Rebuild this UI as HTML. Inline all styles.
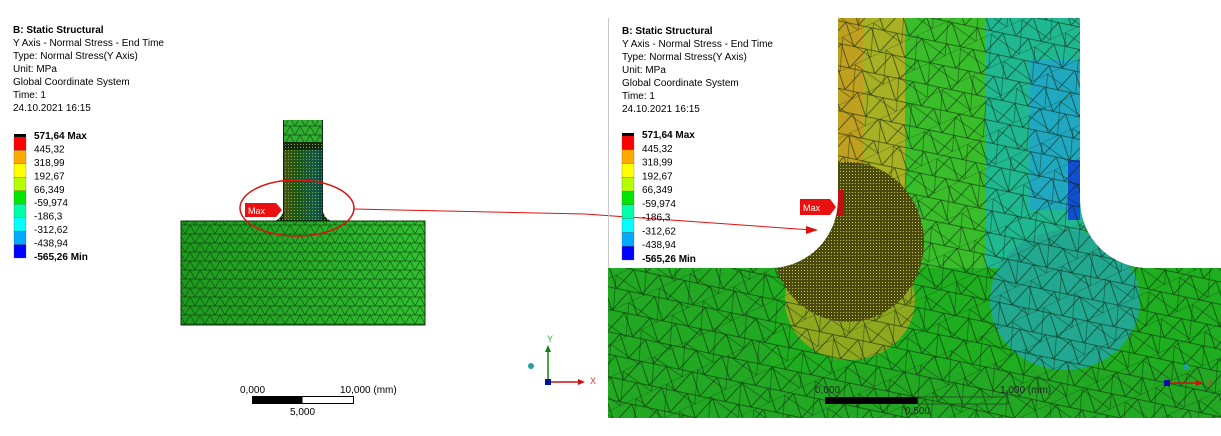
<!DOCTYPE html>
<html><head><meta charset="utf-8">
<style>
body{margin:0;background:#fff;width:1221px;height:436px;overflow:hidden;font-family:"Liberation Sans",sans-serif}
svg{position:absolute;left:0;top:0}
text{font-family:"Liberation Sans",sans-serif}
</style></head><body>
<svg width="1221" height="436" viewBox="0 0 1221 436">
<defs>
 <pattern id="meshS" width="10" height="9" patternUnits="userSpaceOnUse">
  <path d="M0 0H10M0 0L5 9L10 0M0 9H10" stroke="#0a2a0a" stroke-width="0.7" fill="none" opacity="0.7"/>
 </pattern>
 <pattern id="meshL" width="26" height="22" patternUnits="userSpaceOnUse" patternTransform="rotate(12)">
  <path d="M0 0H26M0 0L13 22L26 0M0 22H26M13 22L0 44" stroke="#082008" stroke-width="0.8" fill="none" opacity="0.7"/>
 </pattern>
 <pattern id="meshL2" width="34" height="30" patternUnits="userSpaceOnUse" patternTransform="rotate(-25)">
  <path d="M0 0L17 30L34 0M0 30H34" stroke="#082008" stroke-width="0.7" fill="none" opacity="0.55"/>
 </pattern>
 <pattern id="dots" width="3" height="3" patternUnits="userSpaceOnUse">
  <rect width="3" height="3" fill="#4a4a10"/><rect width="1" height="1" fill="#c8c830"/>
 </pattern>
 <pattern id="dotsS" width="3" height="3" patternUnits="userSpaceOnUse">
  <rect width="3" height="3" fill="#102a10"/><rect width="1" height="1" fill="#90a030"/>
 </pattern>
 <linearGradient id="baseG" x1="0" x2="1">
  <stop offset="0" stop-color="#1e9a1e"/><stop offset="1" stop-color="#30c030"/>
 </linearGradient>
 <linearGradient id="stemG" x1="0" x2="1">
  <stop offset="0" stop-color="#b8b020"/><stop offset="0.35" stop-color="#40c020"/><stop offset="0.55" stop-color="#30c080"/><stop offset="0.85" stop-color="#20c8c0"/><stop offset="1" stop-color="#1070e0"/>
 </linearGradient>
 <clipPath id="geoR">
  <path d="M838 18 L1080 18 L1080 200 A68 68 0 0 0 1148 268 L1221 268 L1221 418 L608 418 L608 268 L770 268 A68 68 0 0 0 838 200 Z"/>
 </clipPath>
</defs>

<g font-size="10" fill="#000">
 <text x="13" y="33" font-weight="bold">B: Static Structural</text>
 <text x="13" y="46">Y Axis - Normal Stress - End Time</text>
 <text x="13" y="59">Type: Normal Stress(Y Axis)</text>
 <text x="13" y="72">Unit: MPa</text>
 <text x="13" y="85">Global Coordinate System</text>
 <text x="13" y="98">Time: 1</text>
 <text x="13" y="111">24.10.2021 16:15</text>
</g>
<g id="legL"></g>

<g>
 <rect x="181" y="221" width="244" height="104" fill="url(#baseG)"/>
 <rect x="181" y="221" width="244" height="104" fill="url(#meshS)"/>
 <rect x="181" y="221" width="244" height="104" fill="none" stroke="#0a3a0a"/>
 <path d="M283 120H323V212Q326 221 334 221H272Q280 221 283 212Z" fill="url(#dotsS)"/>
 <rect x="284" y="150" width="38" height="70" fill="url(#stemG)" opacity="0.3"/>
 <rect x="284" y="120" width="38" height="22" fill="#30b030"/>
 <rect x="284" y="120" width="38" height="22" fill="url(#meshS)"/>
 <ellipse cx="297" cy="208" rx="57" ry="28" fill="none" stroke="#e01010" stroke-width="1.5"/>
 <path d="M245 203H276L282 210L276 217H245Z" fill="#e81010"/>
 <text x="248" y="214" font-size="9" fill="#fff">Max</text>
</g>
<path d="M354 209 L585 214 L812 230" stroke="#e01010" stroke-width="1" fill="none"/>
<path d="M806 226 L818 230 L806 234Z" fill="#e01010"/>

<g font-size="10">
 <text x="240" y="393">0,000</text>
 <text x="340" y="393">10,000 (mm)</text>
 <rect x="252.5" y="396.5" width="101" height="7" fill="#fff" stroke="#000"/>
 <rect x="252.5" y="396.5" width="50" height="7" fill="#000"/>
 <text x="290" y="415">5,000</text>
</g>
<g>
 <line x1="548" y1="382" x2="548" y2="350" stroke="#108010" stroke-width="1.5"/>
 <path d="M545 352L548 345L551 352Z" fill="#108010"/>
 <line x1="548" y1="382" x2="581" y2="382" stroke="#d01010" stroke-width="1.5"/>
 <path d="M578 379L585 382L578 385Z" fill="#d01010"/>
 <rect x="545" y="379" width="6" height="6" fill="#0010a0"/>
 <circle cx="531" cy="366" r="3" fill="#20a0a0"/>
 <text x="547" y="342" font-size="9" fill="#30b030">Y</text>
 <text x="590" y="384" font-size="9" fill="#e03030">X</text>
</g>

<line x1="608.5" y1="18" x2="608.5" y2="418" stroke="#c8c8c8"/>
<g clip-path="url(#geoR)">
 <rect x="600" y="10" width="630" height="420" fill="#1fae1f"/>
 <rect x="838" y="18" width="70" height="250" fill="#a8b024"/>
 <rect x="838" y="18" width="25" height="150" fill="#c0a020"/>
 <rect x="905" y="18" width="80" height="250" fill="#3abd2a"/>
 <rect x="985" y="18" width="100" height="250" fill="#20b890"/>
 <rect x="1030" y="60" width="50" height="150" fill="#20a8c0"/>
 <rect x="1068" y="160" width="12" height="60" fill="#1050d0"/>
 <ellipse cx="1065" cy="300" rx="75" ry="70" fill="#22a890"/>
 <ellipse cx="850" cy="300" rx="65" ry="60" fill="#90a820"/>
 <rect x="600" y="270" width="170" height="150" fill="#22a822"/>
 <rect x="600" y="370" width="630" height="60" fill="#22a822"/>
 <rect x="600" y="10" width="630" height="420" fill="url(#meshL)"/>
 <rect x="600" y="10" width="630" height="420" fill="url(#meshL2)"/>
 <ellipse cx="848" cy="242" rx="76" ry="80" fill="url(#dots)"/>
 <path d="M838 190 L844 190 L844 215 L836 215Z" fill="#c01010"/>
</g>
<g font-size="10" fill="#000">
 <text x="622" y="34" font-weight="bold">B: Static Structural</text>
 <text x="622" y="47">Y Axis - Normal Stress - End Time</text>
 <text x="622" y="60">Type: Normal Stress(Y Axis)</text>
 <text x="622" y="73">Unit: MPa</text>
 <text x="622" y="86">Global Coordinate System</text>
 <text x="622" y="99">Time: 1</text>
 <text x="622" y="112">24.10.2021 16:15</text>
</g>
<g id="legR"></g>
<path d="M800 199H830L836 207L830 215H800Z" fill="#e81010"/>
<text x="803" y="211" font-size="9" fill="#fff">Max</text>
<g font-size="10" fill="#222">
 <rect x="825" y="397" width="93" height="7" fill="#000"/>
 <rect x="918" y="397" width="90" height="7" fill="none" stroke="#225522"/>
 <text x="815" y="393">0,000</text>
 <text x="1000" y="393">1,000 (mm)</text>
 <text x="905" y="414">0,500</text>
</g>
<g>
 <line x1="1168" y1="383" x2="1200" y2="383" stroke="#d01010" stroke-width="1.5"/>
 <path d="M1196 380L1203 383L1196 386Z" fill="#d01010"/>
 <rect x="1164" y="380" width="6" height="6" fill="#0010a0"/>
 <circle cx="1186" cy="367" r="3" fill="#20a0a0"/>
 <text x="1207" y="386" font-size="9" fill="#e03030">X</text>
</g>
</svg>
<script>
const legendLabels=["571,64 Max","445,32","318,99","192,67","66,349","-59,974","-186,3","-312,62","-438,94","-565,26 Min"];
const legendColors=["#ff0000","#ffaa00","#ffff00","#b4ff00","#00e600","#00ffaa","#00ffff","#00aaff","#0000ff"];
function buildLegend(id,x,y0,y1,tx){
 const g=document.getElementById(id);const ns="http://www.w3.org/2000/svg";
 const h=(y1-y0)/legendColors.length;
 const top=document.createElementNS(ns,"rect");
 top.setAttribute('x',x);top.setAttribute('y',y0-3);top.setAttribute('width',12);top.setAttribute('height',3);top.setAttribute('fill','#000');
 
 
 g.appendChild(top);
 legendColors.forEach((c,i)=>{
  const r=document.createElementNS(ns,"rect");
  r.setAttribute('x',x);r.setAttribute('y',y0+i*h);r.setAttribute('width',12);r.setAttribute('height',h);r.setAttribute('fill',c);
  r.setAttribute('stroke','#555');r.setAttribute('stroke-width','0.3');
  
  
  g.appendChild(r);
 });
 legendLabels.forEach((l,i)=>{
  const t=document.createElementNS(ns,"text");
  t.setAttribute('x',tx);t.setAttribute('y',y0-6+i*h+8);t.setAttribute('font-size','10');
  if(i==0||i==legendLabels.length-1)t.setAttribute('font-weight','bold');
  t.textContent=l;
  
  
  g.appendChild(t);
 });
}
buildLegend('legL',14,137,258,34);
buildLegend('legR',622,136,260,642);
</script>
</body></html>
